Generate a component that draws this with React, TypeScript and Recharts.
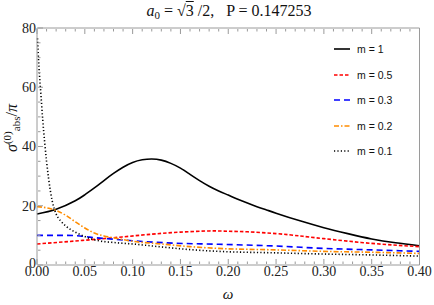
import React from 'react';
import { LineChart, Line, XAxis, YAxis, Legend } from 'recharts';

// ---------- tick labels ----------
const xTicks = [0, 0.01, 0.02, 0.03, 0.04, 0.05, 0.06, 0.07, 0.08, 0.09, 0.1, 0.11, 0.12, 0.13, 0.14, 0.15, 0.16, 0.17, 0.18, 0.19, 0.2, 0.21, 0.22, 0.23, 0.24, 0.25, 0.26, 0.27, 0.28, 0.29, 0.3, 0.31, 0.32, 0.33, 0.34, 0.35, 0.36, 0.37, 0.38, 0.39, 0.4];
const xMajorTicks = [0, 0.05, 0.1, 0.15, 0.2, 0.25, 0.3, 0.35, 0.4];
const xTickLabels = ['0.00', '0.05', '0.10', '0.15', '0.20', '0.25', '0.30', '0.35', '0.40'];
const yTicks = [0, 5, 10, 15, 20, 25, 30, 35, 40, 45, 50, 55, 60, 65, 70, 75, 80];
const yMajorTicks = [0, 20, 40, 60, 80];
const yTickLabels = ['0', '20', '40', '60', '80'];

// ---------- series (omega, sigma/pi) ----------
const omegaM1 = [0, 0.02, 0.04, 0.05, 0.06, 0.07, 0.08, 0.09, 0.1, 0.11, 0.12, 0.13, 0.14, 0.15, 0.16, 0.17, 0.18, 0.19, 0.2, 0.21, 0.22, 0.23, 0.24, 0.25, 0.275, 0.3, 0.325, 0.35, 0.375, 0.4];
const sigmaM1 = [17.2, 18.8, 21.7, 23.7, 26.0, 28.5, 30.9, 33.0, 34.6, 35.5, 35.8, 35.4, 34.3, 32.7, 30.6, 28.5, 26.6, 25.0, 23.6, 22.2, 20.9, 19.7, 18.6, 17.5, 14.9, 12.6, 10.6, 8.8, 7.5, 6.5];

const omegaM05 = [0, 0.04, 0.08, 0.12, 0.15, 0.18, 0.2, 0.22, 0.25, 0.275, 0.3, 0.35, 0.4];
const sigmaM05 = [7.1, 8.1, 9.2, 10.4, 11.1, 11.5, 11.4, 11.2, 10.6, 9.8, 8.9, 7.3, 6.2];

const omegaM03 = [0, 0.03, 0.045, 0.055, 0.08, 0.1, 0.134, 0.19, 0.25, 0.3, 0.35, 0.4];
const sigmaM03 = [10.0, 10.0, 9.8, 9.4, 8.7, 8.2, 7.5, 7.0, 6.4, 5.6, 5.1, 4.6];

const omegaM02 = [0, 0.01, 0.02, 0.03, 0.04, 0.05, 0.06, 0.07, 0.08, 0.1, 0.13, 0.16, 0.19, 0.25, 0.3, 0.35, 0.4];
const sigmaM02 = [19.7, 19.3, 18.4, 16.8, 14.6, 12.5, 10.8, 9.8, 9.2, 8.0, 7.1, 6.2, 5.6, 5.1, 4.6, 4.3, 3.9];

const omegaM01 = [0.0005, 0.002, 0.004, 0.006, 0.008, 0.01, 0.012, 0.014, 0.016, 0.018, 0.02, 0.022, 0.025, 0.03, 0.035, 0.04, 0.05, 0.06, 0.07, 0.08, 0.1, 0.13, 0.16, 0.19, 0.25, 0.3, 0.35, 0.4];
const sigmaM01 = [76.5, 67, 58, 49, 41.5, 35, 29.5, 25, 21.5, 19, 17.2, 16, 14.8, 13.2, 12, 11.1, 9.6, 8.5, 7.9, 7.6, 7.1, 6.1, 5.2, 4.6, 4.1, 3.7, 3.4, 3.0];

const seriesNames = ['m = 1', 'm = 0.5', 'm = 0.3', 'm = 0.2', 'm = 0.1'];

const toData = (xs: number[], ys: number[]) => xs.map((x, i) => ({ x, y: ys[i] }));

const seriesStyles = [
  { color: '#000000', dash: undefined as string | undefined, width: 1.6, curve: 'natural' },
  { color: '#ff0000', dash: '3.5 2', width: 1.6, curve: 'natural' },
  { color: '#0000ff', dash: '6 4', width: 1.6, curve: 'monotone' },
  { color: '#ff8c00', dash: '5 2 1.5 2', width: 1.6, curve: 'monotone' },
  { color: '#000000', dash: '1.2 2.2', width: 1.6, curve: 'monotone' },
];

const seriesData = [
  toData(omegaM1, sigmaM1),
  toData(omegaM05, sigmaM05),
  toData(omegaM03, sigmaM03),
  toData(omegaM02, sigmaM02),
  toData(omegaM01, sigmaM01),
];

const FRAME = '#9a9a9a';
const SERIF = '"Liberation Serif", "Times New Roman", serif';
const SANS = '"Liberation Sans", Arial, sans-serif';

const majorIndex = (v: number, majors: number[]) => majors.findIndex((m) => Math.abs(m - v) < 1e-9);

const BottomTick = (props: any) => {
  const { x, y, payload } = props;
  const mi = majorIndex(payload.value, xMajorTicks);
  const ay = y - 1;
  return (
    <g>
      <line x1={x} x2={x} y1={ay} y2={ay - (mi >= 0 ? 5 : 2.5)} stroke={FRAME} strokeWidth={1} />
      {mi >= 0 && (
        <text x={x} y={ay + 11.8} textAnchor="middle" fontFamily={SERIF} fontSize={14} fill="#222">
          {xTickLabels[mi]}
        </text>
      )}
    </g>
  );
};

const TopTick = (props: any) => {
  const { x, y, payload } = props;
  const mi = majorIndex(payload.value, xMajorTicks);
  const ay = y + 1;
  return <line x1={x} x2={x} y1={ay} y2={ay + (mi >= 0 ? 5 : 2.5)} stroke={FRAME} strokeWidth={1} />;
};

const LeftTick = (props: any) => {
  const { x, y, payload } = props;
  const mi = majorIndex(payload.value, yMajorTicks);
  const ax = x + 1;
  return (
    <g>
      <line x1={ax} x2={ax + (mi >= 0 ? 5 : 2.5)} y1={y} y2={y} stroke={FRAME} strokeWidth={1} />
      {mi >= 0 && (
        <text x={ax - 2} y={y + (mi === 0 ? 3 : 4.8)} textAnchor="end" fontFamily={SERIF} fontSize={14} fill="#222">
          {yTickLabels[mi]}
        </text>
      )}
    </g>
  );
};

const RightTick = (props: any) => {
  const { x, y, payload } = props;
  const mi = majorIndex(payload.value, yMajorTicks);
  const ax = x - 1;
  return <line x1={ax} x2={ax - (mi >= 0 ? 5 : 2.5)} y1={y} y2={y} stroke={FRAME} strokeWidth={1} />;
};

const renderLegend = () => (
  <div style={{ position: 'relative', fontFamily: SANS, fontSize: 10.5, color: '#111' }}>
    {seriesNames.map((name, i) => {
      const s = seriesStyles[i];
      return (
        <div
          key={name}
          style={{ position: 'absolute', left: 0, top: i * 25.5, height: 14, display: 'flex', alignItems: 'center', whiteSpace: 'nowrap' }}
        >
          <svg width={16} height={6} style={{ display: 'block' }}>
            <line x1={0} y1={3} x2={16} y2={3} stroke={s.color} strokeWidth={s.width} strokeDasharray={s.dash} />
          </svg>
          <span style={{ marginLeft: 7 }}>{name}</span>
        </div>
      );
    })}
  </div>
);

export default function App() {
  return (
    <div style={{ position: 'absolute', left: 0, top: 0, width: 434, height: 305, background: '#fff' }}>
      <div
        style={{
          position: 'absolute',
          left: 29,
          top: 2,
          width: 400,
          textAlign: 'center',
          fontFamily: SERIF,
          fontSize: 16,
          lineHeight: '18px',
          whiteSpace: 'pre',
          color: '#111',
        }}
      >
        <i>a</i>
        <span style={{ fontSize: 11, position: 'relative', top: 3 }}>0</span>
        {' = √'}
        <span style={{ textDecoration: 'overline' }}>3</span>
        {' /2,   P = 0.147253'}
      </div>
      <LineChart width={434} height={305} data={seriesData[0]} margin={{ top: 27, right: 13.5, bottom: 39, left: 36 }}>
        <XAxis
          xAxisId={0}
          dataKey="x"
          type="number"
          domain={[0, 0.4]}
          ticks={xTicks}
          interval={0}
          height={1}
          tickSize={0}
          tickMargin={0}
          tickLine={false}
          axisLine={{ stroke: FRAME }}
          tick={<BottomTick />}
        />
        <XAxis
          xAxisId="top"
          orientation="top"
          dataKey="x"
          type="number"
          domain={[0, 0.4]}
          ticks={xTicks}
          interval={0}
          height={1}
          tickSize={0}
          tickMargin={0}
          tickLine={false}
          axisLine={{ stroke: FRAME }}
          tick={<TopTick />}
        />
        <YAxis
          yAxisId={0}
          type="number"
          domain={[0, 80]}
          ticks={yTicks}
          interval={0}
          width={1}
          tickSize={0}
          tickMargin={0}
          tickLine={false}
          axisLine={{ stroke: FRAME }}
          tick={<LeftTick />}
        />
        <YAxis
          yAxisId="right"
          orientation="right"
          type="number"
          domain={[0, 80]}
          ticks={yTicks}
          interval={0}
          width={1}
          tickSize={0}
          tickMargin={0}
          tickLine={false}
          axisLine={{ stroke: FRAME }}
          tick={<RightTick />}
        />
        <Legend
          layout="vertical"
          align="center"
          verticalAlign="middle"
          content={renderLegend}
          wrapperStyle={{ position: 'absolute', left: 334, top: 42, width: 95, height: 130 }}
        />
        {seriesData.map((d, i) => (
          <Line
            key={seriesNames[i]}
            name={seriesNames[i]}
            data={d}
            dataKey="y"
            xAxisId={0}
            yAxisId={0}
            type={seriesStyles[i].curve as any}
            stroke={seriesStyles[i].color}
            strokeWidth={seriesStyles[i].width}
            strokeDasharray={seriesStyles[i].dash}
            dot={false}
            activeDot={false}
            isAnimationActive={false}
          />
        ))}
      </LineChart>
      <svg width={40} height={305} style={{ position: 'absolute', left: 0, top: 0, pointerEvents: 'none' }}>
        <text
          transform="rotate(-90, 17, 128)"
          x={17}
          y={128}
          textAnchor="middle"
          fontFamily={SERIF}
          fontSize={16}
          fill="#111"
        >
          <tspan fontStyle="italic">σ</tspan>
          <tspan fontSize={11} dy={-6}>(0)</tspan>
          <tspan fontSize={11} dy={9}>abs</tspan>
          <tspan dy={-3}>/</tspan>
          <tspan fontStyle="italic">π</tspan>
        </text>
      </svg>
      <div
        style={{
          position: 'absolute',
          left: 208,
          top: 285,
          width: 40,
          textAlign: 'center',
          fontFamily: SERIF,
          fontStyle: 'italic',
          fontSize: 15,
          lineHeight: '18px',
          color: '#111',
        }}
      >
        ω
      </div>
    </div>
  );
}
